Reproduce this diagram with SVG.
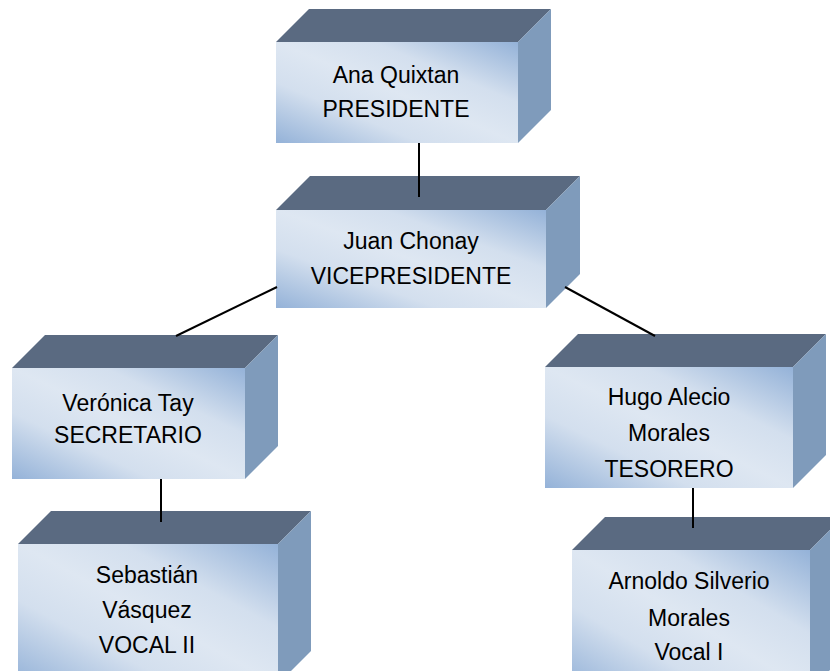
<svg xmlns="http://www.w3.org/2000/svg" width="830" height="671" viewBox="0 0 830 671">
<defs>
<linearGradient id="front" x1="0" y1="1" x2="1" y2="0">
<stop offset="0" stop-color="#94b2d8"/>
<stop offset="0.3" stop-color="#d3dfee"/>
<stop offset="0.5" stop-color="#dee7f2"/>
<stop offset="0.7" stop-color="#d3dfee"/>
<stop offset="1" stop-color="#94b2d8"/>
</linearGradient>
<style>
.top{fill:#5a6a81}
.side{fill:#7f9bbb}
.front{fill:url(#front)}
.lbl{font-family:"Liberation Sans",Arial,sans-serif;font-size:23px;fill:#000;text-anchor:middle}
.conn line{stroke:#000;stroke-width:2}
</style>
</defs>
<rect width="830" height="671" fill="#fff"/>
<g id="node-presidente">
<polygon class="top" points="276,42 309,9 551,9 518,42"/>
<polygon class="side" points="518,42 551,9 551,110 518,143"/>
<rect class="front" x="276" y="42" width="242" height="101"/>
<text class="lbl" x="396" y="83">Ana Quixtan</text>
<text class="lbl" x="396" y="117">PRESIDENTE</text>
</g>
<g id="node-vicepresidente">
<polygon class="top" points="276,210 310,176 580,176 546,210"/>
<polygon class="side" points="546,210 580,176 580,274 546,308"/>
<rect class="front" x="276" y="210" width="270" height="98"/>
<text class="lbl" x="411" y="249">Juan Chonay</text>
<text class="lbl" x="411" y="284">VICEPRESIDENTE</text>
</g>
<g id="node-secretario">
<polygon class="top" points="12,368 45,335 278,335 245,368"/>
<polygon class="side" points="245,368 278,335 278,446 245,479"/>
<rect class="front" x="12" y="368" width="233" height="111"/>
<text class="lbl" x="128" y="411">Verónica Tay</text>
<text class="lbl" x="128" y="443">SECRETARIO</text>
</g>
<g id="node-vocal2">
<polygon class="top" points="18,544 51,511 311,511 278,544"/>
<polygon class="side" points="278,544 311,511 311,651 278,684"/>
<rect class="front" x="18" y="544" width="260" height="140"/>
<text class="lbl" x="147" y="583">Sebastián</text>
<text class="lbl" x="147" y="618">Vásquez</text>
<text class="lbl" x="147" y="653">VOCAL II</text>
</g>
<g id="node-tesorero">
<polygon class="top" points="545,367 578,334 826,334 793,367"/>
<polygon class="side" points="793,367 826,334 826,455 793,488"/>
<rect class="front" x="545" y="367" width="248" height="121"/>
<text class="lbl" x="669" y="405">Hugo Alecio</text>
<text class="lbl" x="669" y="441">Morales</text>
<text class="lbl" x="669" y="477">TESORERO</text>
</g>
<g id="node-vocal1">
<polygon class="top" points="572,550 605,517 843,517 810,550"/>
<polygon class="side" points="810,550 843,517 843,657 810,690"/>
<rect class="front" x="572" y="550" width="238" height="140"/>
<text class="lbl" x="689" y="589">Arnoldo Silverio</text>
<text class="lbl" x="689" y="626">Morales</text>
<text class="lbl" x="689" y="660">Vocal I</text>
</g>
<g id="connectors" class="conn">
<line x1="419" y1="143" x2="419" y2="197"/>
<line x1="277" y1="287" x2="176" y2="336"/>
<line x1="565" y1="287" x2="655" y2="336"/>
<line x1="161" y1="479" x2="161" y2="522"/>
<line x1="693" y1="488" x2="693" y2="528"/>
</g>
</svg>
